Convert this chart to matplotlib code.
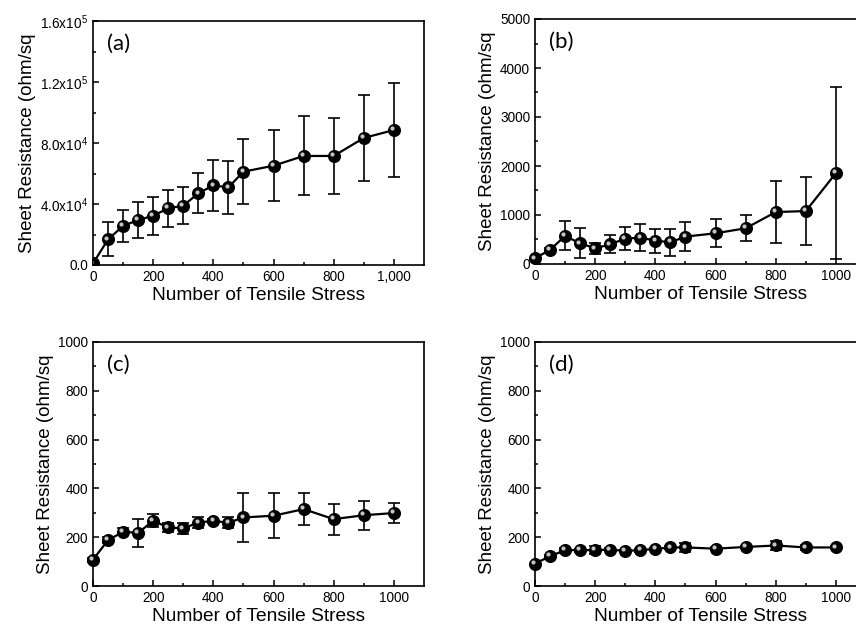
import numpy as np
import matplotlib
matplotlib.use('Agg')
import matplotlib.pyplot as plt
from matplotlib import transforms
from matplotlib.ticker import MultipleLocator, FixedLocator


plt.rcParams['font.family'] = ['Liberation Sans', 'DejaVu Sans']
plt.rcParams['mathtext.fontset'] = 'custom'
plt.rcParams['mathtext.rm'] = 'Liberation Sans'
plt.rcParams['mathtext.it'] = 'Liberation Sans:italic'

# number of tensile stress cycles
cycles = [0, 50, 100, 150, 200, 250, 300, 350, 400, 450, 500, 600, 700, 800, 900, 1000]

# (a) sheet resistance (ohm/sq) and error
res_a = [1000, 16800, 25600, 29500, 32300, 37200, 38900, 47000, 52200, 50900,
         61200, 65100, 71500, 71500, 83300, 88500]
err_a = [0, 11200, 10400, 11900, 12400, 12000, 12000, 13100, 16700, 17500,
         21100, 23200, 25900, 25200, 28500, 31000]

# (b)
res_b = [116, 290, 572, 422, 320, 402, 518, 538, 477, 443, 559, 627, 729, 1060, 1080, 1855]
err_b = [0, 30, 296, 306, 112, 180, 238, 275, 245, 280, 293, 287, 262, 635, 695, 1755]

# (c)
res_c = [108, 188, 222, 218, 267, 240, 236, 260, 267, 259, 281, 288, 315, 274, 290, 299]
err_c = [8, 12, 15, 57, 27, 20, 24, 22, 8, 22, 99, 93, 66, 64, 60, 41]

# (d)
res_d = [92, 122, 147, 147, 147, 149, 144, 147, 152, 158, 158, 153, 160, 166, 158, 158]
err_d = [0, 5, 10, 6, 15, 6, 5, 6, 5, 6, 20, 6, 5, 20, 10, 5]

W, H = 856, 626


def make_axes(fig, left, top, right, bottom):
	return fig.add_axes([left / W, 1 - bottom / H, (right - left) / W, (bottom - top) / H])


def draw_panel(ax, fig, y, yerr, ymax, major, tag, clip=True):
	ax.errorbar(cycles, y, yerr=yerr, color='black', lw=1.6, elinewidth=1.2,
				capsize=4.3, capthick=1.2, marker='o', ms=8.4, mfc='black',
				mec='black', zorder=3, clip_on=clip)
	# highlight on the balls
	shine = transforms.offset_copy(ax.transData, fig=fig, x=-1.8, y=1.8, units='dots')
	ax.plot(cycles, y, ls='none', marker='o', ms=3.0, color='#c4c4c4',
			mec='none', transform=shine, zorder=4, clip_on=clip)

	ax.set_xlim(0, 1100)
	ax.set_ylim(0, ymax)
	ax.xaxis.set_major_locator(FixedLocator([0, 200, 400, 600, 800, 1000]))
	ax.xaxis.set_minor_locator(FixedLocator([100, 300, 500, 700, 900]))
	ax.yaxis.set_major_locator(MultipleLocator(major))
	ax.yaxis.set_minor_locator(MultipleLocator(major / 2))
	ax.tick_params(which='both', direction='in', labelsize=9.8, width=1.1)
	ax.tick_params(which='major', length=4)
	ax.tick_params(which='minor', length=2.5)
	for s in ax.spines.values():
		s.set_linewidth(1.2)

	ax.set_xlabel('Number of Tensile Stress', fontsize=13.8, labelpad=2)
	ax.set_ylabel('Sheet Resistance (ohm/sq', fontsize=13.5, labelpad=3)
	ax.text(0.042, 0.905, tag, transform=ax.transAxes, fontsize=16,
			family=['Lato', 'DejaVu Sans'], va='center', ha='left')


def main():
	fig = plt.figure(figsize=(W / 100, H / 100), dpi=100)

	ax_a = make_axes(fig, 93, 21, 424, 265)
	ax_b = make_axes(fig, 535, 19, 866, 264)
	ax_c = make_axes(fig, 93, 342, 424, 586)
	ax_d = make_axes(fig, 535, 342, 866, 586)

	draw_panel(ax_a, fig, res_a, err_a, 160000, 40000, '(a)')
	ax_a.set_yticks([0, 40000, 80000, 120000, 160000])
	ax_a.set_yticklabels(['0.0', r'4.0x10$^{4}$', r'8.0x10$^{4}$',
						  r'1.2x10$^{5}$', r'1.6x10$^{5}$'])
	ax_a.set_xticklabels(['0', '200', '400', '600', '800', '1,000'])

	draw_panel(ax_b, fig, res_b, err_b, 5000, 1000, '(b)', clip=False)
	draw_panel(ax_c, fig, res_c, err_c, 1000, 200, '(c)', clip=False)
	draw_panel(ax_d, fig, res_d, err_d, 1000, 200, '(d)', clip=False)

	fig.savefig('out.png', dpi=100)


if __name__ == '__main__':
	main()
